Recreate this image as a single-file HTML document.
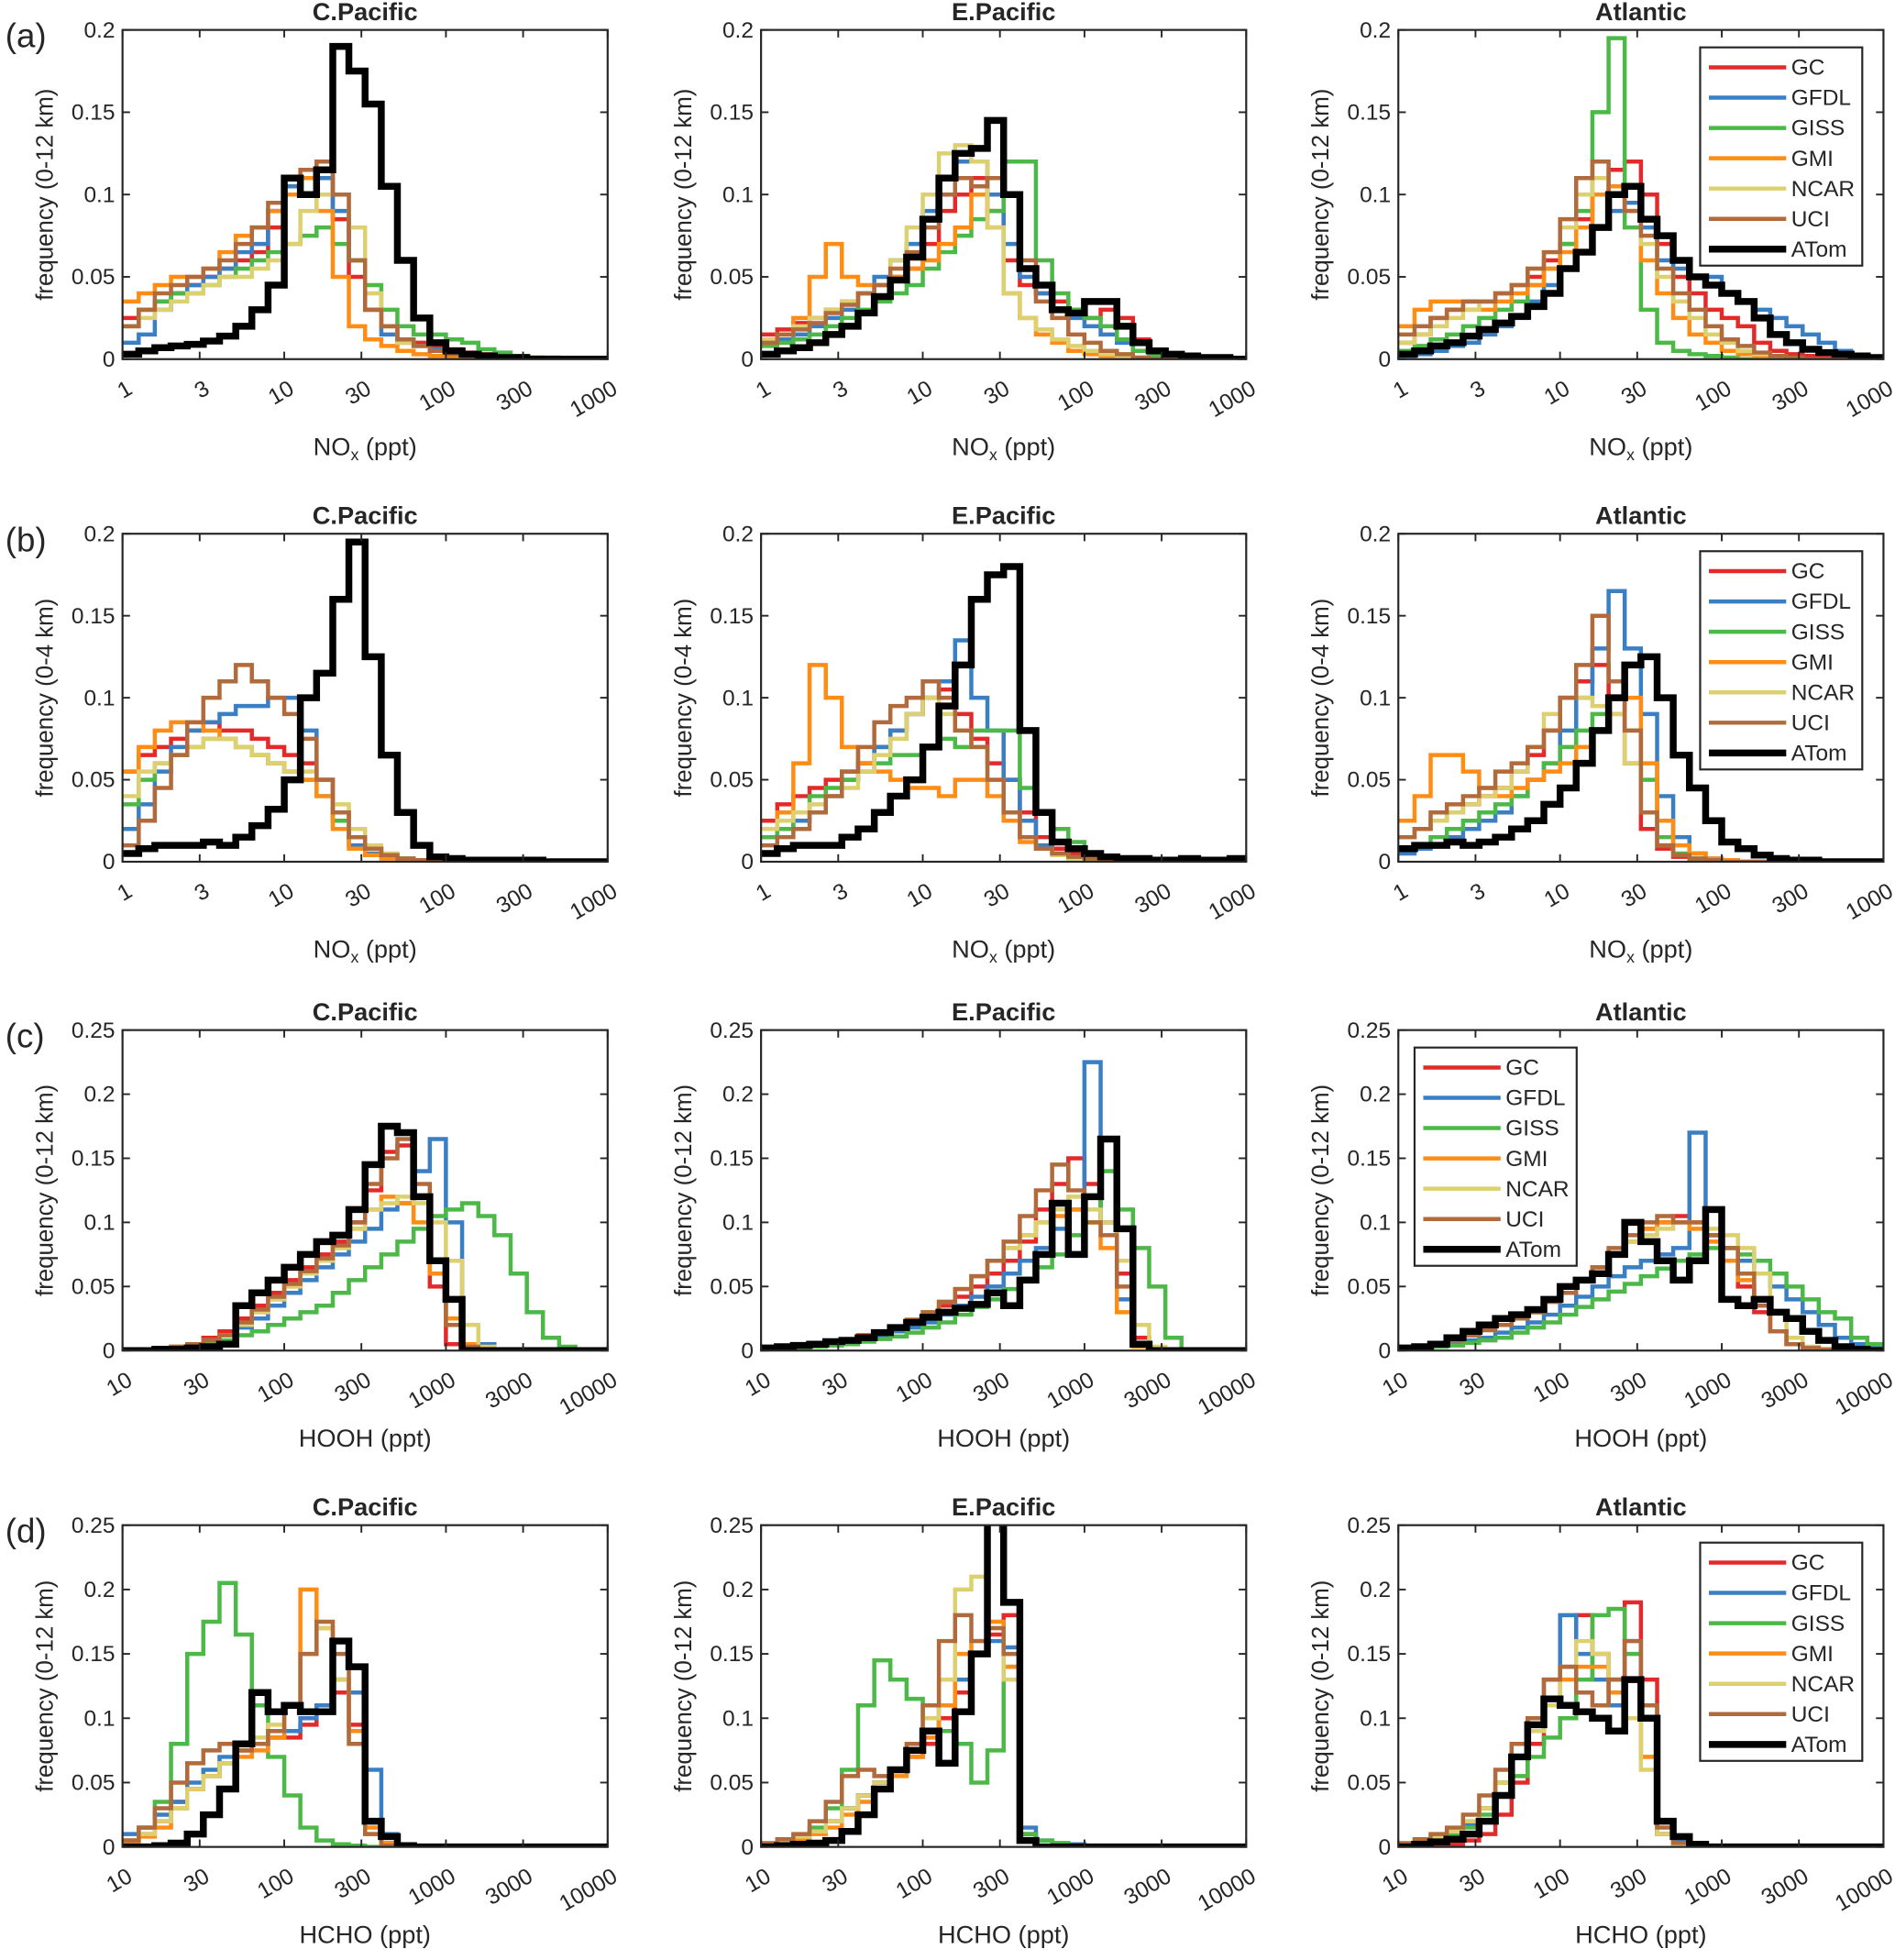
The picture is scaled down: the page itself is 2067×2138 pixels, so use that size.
<!DOCTYPE html>
<html><head><meta charset="utf-8"><style>
html,body{margin:0;padding:0;background:#fff}
svg text{font-family:"Liberation Sans",Arial,sans-serif;fill:#262626}
</style></head><body>
<svg id="fig" width="2067" height="2133" viewBox="0 0 1519 1568" xmlns="http://www.w3.org/2000/svg"></svg>
<script>
const seriesNames=["GC","GFDL","GISS","GMI","NCAR","UCI","ATom"];
const seriesColors=["#e32a2a","#3a7fc4","#4cb847","#ff8c14","#dcd070","#b06a3b","#000000"];
const noxTicks=["1","3","10","30","100","300","1000"];
const concTicks=["10","30","100","300","1000","3000","10000"];
const yTicksA=["0","0.05","0.1","0.15","0.2"];
const yTicksC=["0","0.05","0.1","0.15","0.2","0.25"];
const regions=["C.Pacific","E.Pacific","Atlantic"];
// values in thousandths, 30 log bins per panel
const a1=[
[25,30,35,40,45,50,55,60,65,80,100,110,115,85,50,30,20,12,10,8,6,4,3,2,1,1,0,0,0,0],
[10,15,30,40,45,50,55,65,70,90,105,110,110,90,60,30,15,10,8,6,4,3,2,1,1,0,0,0,0,0],
[20,30,35,40,40,45,50,55,60,65,70,75,80,70,60,45,30,20,15,15,12,10,6,4,2,1,1,0,0,0],
[35,40,45,50,50,55,65,75,80,90,100,110,90,50,20,12,8,5,3,2,1,0,0,0,0,0,0,0,0,0],
[20,25,30,35,40,45,50,50,55,60,70,90,100,100,80,40,20,10,8,5,3,2,1,0,0,0,0,0,0,0],
[20,30,40,45,50,55,60,70,80,95,110,115,120,100,60,30,20,12,8,5,3,2,1,0,0,0,0,0,0,0],
[3,5,7,8,9,11,14,20,30,45,110,100,115,190,175,155,105,60,25,10,5,3,2,1,1,0,0,0,0,0]];
const a2=[
[15,18,22,25,30,35,40,45,50,55,70,90,100,110,90,60,45,40,35,30,25,30,25,12,5,3,2,1,0,0],
[10,12,15,20,25,30,40,50,60,70,90,110,120,120,100,70,50,40,30,25,20,15,10,5,2,1,0,0,0,0],
[8,10,12,15,20,25,30,35,40,45,55,65,75,85,90,120,120,60,40,30,25,20,12,5,2,1,0,0,0,0],
[10,15,25,50,70,50,45,45,50,55,60,70,80,100,80,40,25,15,10,5,3,2,1,0,0,0,0,0,0,0],
[12,15,20,25,30,35,40,45,60,80,100,125,130,120,80,40,25,18,12,8,5,3,2,1,0,0,0,0,0,0],
[10,15,18,22,28,33,40,45,55,65,80,100,110,105,110,100,60,35,25,15,10,5,3,1,0,0,0,0,0,0],
[3,5,7,10,15,20,28,38,48,62,85,110,125,128,145,100,55,45,30,28,35,35,20,10,5,3,2,1,1,0]];
const a3=[
[10,15,25,30,35,35,40,45,50,60,70,85,100,115,120,100,70,50,40,30,25,20,10,5,3,2,1,0,0,0],
[2,3,5,8,10,15,20,25,35,45,55,65,80,90,95,80,60,55,50,50,40,35,30,25,20,15,10,5,2,0],
[5,8,12,15,20,25,30,35,45,55,70,90,150,195,80,30,10,5,3,2,1,0,0,0,0,0,0,0,0,0],
[20,30,35,35,30,30,35,40,45,55,65,80,100,105,90,60,40,25,15,10,5,3,2,1,0,0,0,0,0,0],
[10,15,20,25,30,35,40,45,55,65,80,100,110,100,90,70,50,35,25,15,10,5,3,1,0,0,0,0,0,0],
[15,20,25,30,35,35,40,45,55,65,85,110,120,100,90,75,55,40,30,20,12,8,4,2,1,0,0,0,0,0],
[3,5,8,10,14,18,22,26,32,40,55,65,80,100,105,85,75,60,50,45,40,35,25,15,10,6,4,3,2,1]];
const b1=[
[55,65,70,75,80,85,80,80,75,70,65,60,50,30,15,8,4,2,1,0,0,0,0,0,0,0,0,0,0,0],
[20,35,55,70,80,85,90,95,95,100,100,80,50,25,10,5,3,1,0,0,0,0,0,0,0,0,0,0,0,0],
[35,50,60,65,70,75,75,70,65,60,55,50,40,25,15,8,4,2,1,0,0,0,0,0,0,0,0,0,0,0],
[55,70,80,85,85,80,75,70,65,60,55,50,40,20,8,4,2,1,0,0,0,0,0,0,0,0,0,0,0,0],
[40,55,60,65,70,75,75,70,65,60,55,55,50,35,20,10,5,2,1,0,0,0,0,0,0,0,0,0,0,0],
[10,25,45,65,85,100,110,120,110,100,90,75,50,30,15,8,4,2,1,0,0,0,0,0,0,0,0,0,0,0],
[5,8,10,10,10,12,10,15,22,32,50,100,115,160,195,125,65,30,10,3,2,1,1,1,1,1,0,0,0,0]];
const b2=[
[25,35,40,45,50,55,60,70,80,90,100,105,90,75,60,50,30,15,8,5,3,2,1,0,0,0,0,0,0,0],
[15,20,25,30,40,50,60,70,80,90,100,110,135,100,80,50,25,10,5,3,2,1,0,0,0,0,0,0,0,0],
[15,20,30,40,45,50,55,60,65,65,70,75,70,80,80,80,45,30,20,12,5,2,1,0,0,0,0,0,0,0],
[20,30,60,120,100,70,60,55,50,45,45,40,50,50,40,25,12,8,5,3,2,1,0,0,0,0,0,0,0,0],
[20,25,30,35,40,45,55,65,75,90,100,90,80,70,50,30,15,8,4,2,1,0,0,0,0,0,0,0,0,0],
[10,15,20,30,40,55,70,85,95,100,110,100,80,70,50,30,15,8,5,3,2,1,0,0,0,0,0,0,0,0],
[5,8,10,10,10,15,20,30,40,50,70,95,120,160,175,180,80,30,12,8,5,3,2,2,1,1,2,1,1,2]];
const b3=[
[15,20,25,30,35,40,45,55,65,80,100,110,120,100,60,20,8,3,1,0,0,0,0,0,0,0,0,0,0,0],
[5,8,10,15,20,25,30,40,50,60,80,100,130,165,130,90,40,15,5,2,1,0,0,0,0,0,0,0,0,0],
[8,10,15,20,25,30,35,40,50,60,70,80,90,100,80,50,15,5,2,1,0,0,0,0,0,0,0,0,0,0],
[25,40,65,65,55,45,40,45,50,55,60,70,80,90,100,60,25,10,5,2,1,0,0,0,0,0,0,0,0,0],
[15,20,25,30,35,40,45,55,70,90,100,100,95,90,60,30,10,4,2,1,0,0,0,0,0,0,0,0,0,0],
[15,20,30,35,40,45,55,60,70,80,100,120,150,110,80,30,10,4,2,1,0,0,0,0,0,0,0,0,0,0],
[8,10,10,12,10,12,15,20,25,35,45,60,80,100,120,125,100,65,45,25,12,8,4,2,1,1,0,0,0,0]];
const c1=[
[0,1,2,3,5,10,15,25,35,45,55,65,75,85,100,125,155,160,120,50,5,0,0,0,0,0,0,0,0,0],
[0,1,2,3,5,8,12,18,25,35,45,55,65,75,85,95,110,115,140,165,100,20,5,0,0,0,0,0,0,0],
[0,0,1,2,3,5,8,12,15,20,25,30,35,45,55,65,75,85,95,105,110,115,105,90,60,30,10,3,1,0],
[0,1,2,3,5,8,12,20,30,40,50,60,70,80,95,110,120,115,100,60,25,5,1,0,0,0,0,0,0,0],
[0,1,2,3,5,8,12,20,30,40,50,60,70,80,95,110,115,120,115,100,70,20,3,0,0,0,0,0,0,0],
[0,1,2,3,5,8,12,22,32,42,52,62,72,82,100,130,150,165,130,70,20,3,0,0,0,0,0,0,0,0],
[0,0,1,1,2,3,5,35,45,55,65,75,85,90,110,145,175,170,120,70,40,0,0,0,0,0,0,0,0,0]];
const c2=[
[1,2,3,5,7,9,12,15,18,22,28,35,42,50,60,70,85,110,130,150,130,100,60,10,0,0,0,0,0,0],
[1,2,3,4,6,8,10,12,15,18,22,28,35,42,50,60,70,80,95,110,225,100,40,5,0,0,0,0,0,0],
[0,1,2,3,4,5,7,9,11,14,18,22,28,34,40,48,56,65,75,90,100,140,110,80,50,10,0,0,0,0],
[1,2,3,4,6,8,10,14,18,24,30,38,48,58,70,80,90,100,105,110,100,80,30,3,0,0,0,0,0,0],
[1,2,3,4,6,8,10,14,18,24,30,38,48,58,70,80,90,100,110,120,110,100,70,20,3,0,0,0,0,0],
[1,2,3,4,6,8,10,14,18,24,30,38,48,58,70,85,105,125,145,125,100,90,50,5,0,0,0,0,0,0],
[2,3,4,5,7,8,10,14,18,22,26,30,33,36,45,35,55,75,115,75,120,165,95,5,0,0,0,0,0,0]];
const c3=[
[2,3,5,8,12,16,20,25,30,38,45,55,65,75,85,95,100,105,100,90,70,50,30,15,5,2,1,0,0,0],
[1,2,3,5,8,10,14,18,22,28,35,42,50,58,65,70,75,80,170,90,80,70,60,50,40,30,20,10,5,2],
[1,2,3,4,6,8,10,14,18,22,28,34,40,46,52,58,64,70,75,80,80,75,70,60,50,40,30,25,10,5],
[2,3,5,8,12,16,20,25,30,38,45,55,65,75,85,95,100,100,95,85,70,55,35,15,5,2,1,0,0,0],
[2,3,5,8,12,16,20,25,30,38,45,55,65,75,85,90,95,100,100,95,90,80,60,30,10,3,1,0,0,0],
[2,3,5,8,12,16,20,25,30,38,45,55,65,80,90,100,105,100,100,90,80,60,35,15,5,2,1,0,0,0],
[2,3,5,10,15,20,25,28,32,40,50,55,60,75,100,85,70,55,70,110,40,35,40,30,25,15,8,3,1,0]];
const d1=[
[5,10,20,35,45,55,65,75,80,85,85,95,110,120,95,20,3,0,0,0,0,0,0,0,0,0,0,0,0,0],
[10,15,25,35,50,60,70,75,80,85,90,100,110,130,120,60,10,1,0,0,0,0,0,0,0,0,0,0,0,0],
[5,15,35,80,150,175,205,165,110,70,40,15,5,2,1,0,0,0,0,0,0,0,0,0,0,0,0,0,0,0],
[3,8,15,30,45,55,65,70,75,85,110,200,170,130,90,15,3,0,0,0,0,0,0,0,0,0,0,0,0,0],
[5,10,20,30,45,55,65,75,85,95,110,150,170,130,80,10,1,0,0,0,0,0,0,0,0,0,0,0,0,0],
[5,15,30,50,65,75,80,75,80,90,110,150,175,150,80,10,1,0,0,0,0,0,0,0,0,0,0,0,0,0],
[0,0,1,3,10,25,45,80,120,105,110,105,105,160,140,20,8,1,0,0,0,0,0,0,0,0,0,0,0,0]];
const d2=[
[2,4,8,12,20,30,40,50,60,70,80,100,120,150,165,180,10,0,0,0,0,0,0,0,0,0,0,0,0,0],
[2,4,8,12,20,30,40,50,60,75,90,110,130,150,160,155,15,5,3,2,1,0,0,0,0,0,0,0,0,0],
[2,4,8,15,30,60,110,145,130,115,100,90,80,50,75,140,10,5,3,1,0,0,0,0,0,0,0,0,0,0],
[1,3,6,10,15,25,35,45,55,70,85,110,150,160,175,140,5,0,0,0,0,0,0,0,0,0,0,0,0,0],
[2,4,8,12,20,30,40,50,60,75,100,130,200,210,170,130,5,0,0,0,0,0,0,0,0,0,0,0,0,0],
[3,6,10,20,35,55,60,55,60,80,110,160,180,160,170,150,5,0,0,0,0,0,0,0,0,0,0,0,0,0],
[0,1,2,3,5,12,25,45,60,75,90,65,105,150,260,190,5,0,0,0,0,0,0,0,0,0,0,0,0,0]];
const d3=[
[0,0,0,2,5,10,25,50,80,110,140,180,150,130,190,130,10,0,0,0,0,0,0,0,0,0,0,0,0,0],
[2,4,6,10,18,30,50,70,100,130,180,150,130,110,160,100,20,5,1,0,0,0,0,0,0,0,0,0,0,0],
[2,4,6,10,15,25,40,55,70,85,100,130,180,185,150,70,10,2,0,0,0,0,0,0,0,0,0,0,0,0],
[2,4,8,12,20,30,50,70,90,110,130,140,140,120,100,70,10,2,0,0,0,0,0,0,0,0,0,0,0,0],
[2,4,8,12,20,30,50,70,90,110,140,160,150,130,100,60,10,2,0,0,0,0,0,0,0,0,0,0,0,0],
[3,6,10,15,25,40,60,80,100,130,140,120,110,130,160,110,15,3,0,0,0,0,0,0,0,0,0,0,0,0],
[0,2,4,6,10,20,40,70,95,115,110,105,100,90,130,100,20,8,2,0,0,0,0,0,0,0,0,0,0,0]];

const NS="http://www.w3.org/2000/svg";
const svg=document.getElementById('fig');
function mk(tag,attrs,parent){const e=document.createElementNS(NS,tag);for(const k in attrs)e.setAttribute(k,attrs[k]);(parent||svg).appendChild(e);return e;}
const colX=[98,610,1121], W=389;
const rowsDef=[
 {top:24,bot:288,data:[a1,a2,a3],ymax:0.2,yt:yTicksA,xt:noxTicks,lmin:0,lab:"(a)",yl:"frequency  (0-12 km)",xl:"nox",leg:2,legPos:[1363,38]},
 {top:428,bot:691,data:[b1,b2,b3],ymax:0.2,yt:yTicksA,xt:noxTicks,lmin:0,lab:"(b)",yl:"frequency  (0-4 km)",xl:"nox",leg:2,legPos:[1363,442]},
 {top:826,bot:1083,data:[c1,c2,c3],ymax:0.25,yt:yTicksC,xt:concTicks,lmin:1,lab:"(c)",yl:"frequency  (0-12 km)",xl:"HOOH (ppt)",leg:2,legPos:[1134,840]},
 {top:1223,bot:1481,data:[d1,d2,d3],ymax:0.25,yt:yTicksC,xt:concTicks,lmin:1,lab:"(d)",yl:"frequency  (0-12 km)",xl:"HCHO (ppt)",leg:2,legPos:[1363,1237]}];
const nBins=30, decades=3;
rowsDef.forEach((r,ri)=>{
 const lt=mk('text',{x:4,y:r.top+14,'font-size':27});
 lt.textContent=r.lab;
 
 
 for(let c=0;c<3;c++){
  const x0=colX[c], x1=x0+W, y0=r.bot, y1=r.top, H=y0-y1;
  const g=mk('g',{});
  
  
  const xs=v=>x0+(v-r.lmin)/decades*W;   // v in log10
  const ys=v=>y0-v/r.ymax*H;
  const cid='clip'+ri+c;
  const cp=mk('clipPath',{id:cid},g); mk('rect',{x:x0,y:y1,width:W,height:H},cp);
  const dg=mk('g',{'clip-path':'url(#'+cid+')'},g);
  r.data[c].forEach((vals,si)=>{
   let d='';
   vals.forEach((v,i)=>{
     const xa=xs(r.lmin+i*decades/nBins), xb=xs(r.lmin+(i+1)*decades/nBins), yv=ys(v/1000);
     d+=(i===0?'M':'L')+xa.toFixed(1)+','+yv.toFixed(1)+'L'+xb.toFixed(1)+','+yv.toFixed(1);
   });
   const p=mk('path',{d:d,fill:'none',stroke:seriesColors[si],'stroke-width':si===6?5.5:3.3,'stroke-linejoin':'miter'},dg);
   
   
  });
  // axes box
  const bx=mk('rect',{x:x0,y:y1,width:W,height:H,fill:'none',stroke:'#262626','stroke-width':1.6},g);
  
  
  // y ticks
  r.yt.forEach((t,i)=>{
   const yy=ys(parseFloat(t));
   mk('line',{x1:x0,x2:x0+6,y1:yy,y2:yy,stroke:'#262626','stroke-width':1.4},g);
   mk('line',{x1:x1,x2:x1-6,y1:yy,y2:yy,stroke:'#262626','stroke-width':1.4},g);
   const tx=mk('text',{x:x0-6,y:yy+6,'font-size':18,'text-anchor':'end'},g);
   tx.textContent=t;
   
   
  });
  // x ticks
  r.xt.forEach((t,i)=>{
   const xx=xs(Math.log10(parseFloat(t)));
   mk('line',{x1:xx,x2:xx,y1:y0,y2:y0-6,stroke:'#262626','stroke-width':1.4},g);
   mk('line',{x1:xx,x2:xx,y1:y1,y2:y1+6,stroke:'#262626','stroke-width':1.4},g);
   const tx=mk('text',{x:0,y:0,'font-size':18,'text-anchor':'end',transform:'translate('+(xx+9)+','+(y0+27)+') rotate(-30)'},g);
   tx.textContent=t;
   
   
  });
  const tt=mk('text',{x:x0+W/2,y:y1-8,'font-size':20,'font-weight':'bold','text-anchor':'middle',fill:'#000'},g);
  tt.textContent=regions[c];
  
  
  const yl=mk('text',{x:0,y:0,'font-size':19,'text-anchor':'middle',transform:'translate('+(x0-56)+','+(y1+H/2)+') rotate(-90)'},g);
  yl.textContent=r.yl;
  
  
  const xl=mk('text',{x:x0+W/2,y:y0+77,'font-size':20,'text-anchor':'middle'},g);
  if(r.xl==='nox'){xl.innerHTML='NO<tspan font-size="13" dy="4">x</tspan><tspan dy="-4"> (ppt)</tspan>';}
  else xl.textContent=r.xl;
  
  
  if(c===r.leg){
   const [lx,ly]=r.legPos;
   const lg=mk('g',{},g);
   
   
   mk('rect',{x:lx,y:ly,width:130,height:175,fill:'#fff',stroke:'#262626','stroke-width':1.6},lg);
   seriesNames.forEach((n,si)=>{
    const yy=ly+16+si*24.3;
    const ln=mk('line',{x1:lx+7,x2:lx+69,y1:yy,y2:yy,stroke:seriesColors[si],'stroke-width':si===6?5.5:3.3},lg);
    
    
    const tx=mk('text',{x:lx+73,y:yy+6,'font-size':18},lg);
    tx.textContent=n;
    
    
   });
  }
 }
});
</script>
</body></html>
